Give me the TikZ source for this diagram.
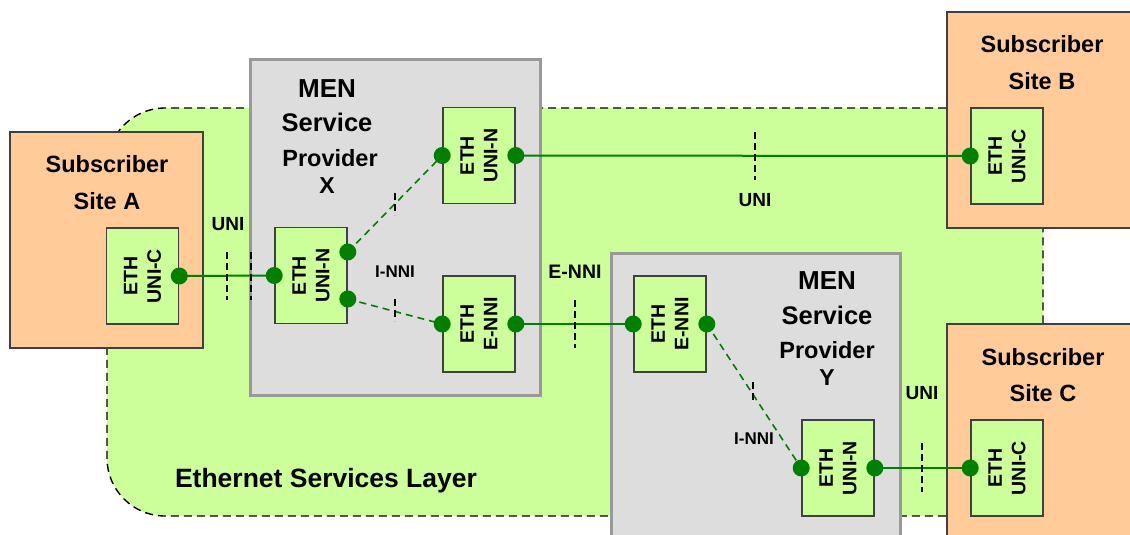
\documentclass[tikz,border=0pt]{standalone}
\usepackage{fontspec}
\setmainfont{Liberation Sans}
\usetikzlibrary{calc}
\definecolor{lgreen}{HTML}{CCFF99}
\definecolor{orng}{HTML}{FFCC99}
\definecolor{menfill}{HTML}{DDDDDD}
\definecolor{menline}{HTML}{999999}
\definecolor{boxline}{HTML}{404040}
\definecolor{dgreen}{HTML}{008000}
\begin{document}
\begin{tikzpicture}[x=1pt,y=-1pt,
  region/.style={draw=black, fill=lgreen, line width=1.4pt, dash pattern=on 8pt off 5pt, rounded corners=58pt, inner sep=0pt},
  site/.style={draw=boxline, fill=orng, line width=1.6pt, inner sep=0pt, minimum width=193pt, minimum height=216pt},
  men/.style={draw=menline, fill=menfill, line width=3pt, inner sep=0pt},
  ethbox/.style={draw=boxline, fill=lgreen, line width=1.6pt, inner sep=0pt, minimum width=72pt, minimum height=96pt},
  ethtxt/.style={rotate=90, align=center, inner sep=0pt, font=\bfseries\fontsize{19.5}{23.5}\selectfont},
  dot/.style={circle, fill=dgreen, inner sep=0pt, minimum size=17pt},
  link/.style={draw=dgreen, line width=2pt},
  dlink/.style={draw=dgreen, line width=1.6pt, dash pattern=on 7pt off 5pt},
  tickmark/.style={draw=black, line width=1.5pt, dash pattern=on 7pt off 4pt},
  txt/.style={inner sep=0pt, text depth=0pt, text height=#1*0.716pt, font=\bfseries\fontsize{#1}{#1}\selectfont}
]
\useasboundingbox (0,0) rectangle (1130,535);
\clip (0,0) rectangle (1130,535);

% Ethernet services layer
\node[region, minimum width=936pt, minimum height=408pt] (esl) at (575,312) {};
\node[txt=26.5] (esltxt) at (326,478) {Ethernet Services Layer};

% subscriber sites
\node[site] (siteA) at (106.5,240) {};
\node[site] (siteB) at (1043.5,120) {};
\node[site] (siteC) at (1043.5,432) {};
\node[txt=23.5] (sAt1) at (107,164) {Subscriber};
\node[txt=23.5] (sAt2) at (107,201) {Site A};
\node[txt=23.5] (sBt1) at (1042,44) {Subscriber};
\node[txt=23.5] (sBt2) at (1042,81) {Site B};
\node[txt=23.5] (sCt1) at (1043,357) {Subscriber};
\node[txt=23.5] (sCt2) at (1043,393) {Site C};

% MEN providers
\node[men, minimum width=290pt, minimum height=335pt] (menX) at (395,227.5) {};
\node[men, minimum width=289pt, minimum height=335pt] (menY) at (755.5,420.5) {};
\node[txt=26] (mXt1) at (327,88) {MEN};
\node[txt=25.5] (mXt2) at (327,122) {Service};
\node[txt=23.5] (mXt3) at (330,158) {Provider};
\node[txt=23] (mXt4) at (327,185) {X};
\node[txt=26] (mYt1) at (827,280) {MEN};
\node[txt=25.5] (mYt2) at (827,315) {Service};
\node[txt=23.5] (mYt3) at (827,350) {Provider};
\node[txt=23] (mYt4) at (827,377) {Y};

% ETH boxes
\node[ethbox] (uA) at (142.5,276) {};
\node[ethbox] (xL) at (311,275.5) {};
\node[ethbox] (xT) at (479,155.5) {};
\node[ethbox] (xE) at (479,324) {};
\node[ethbox] (yE) at (670,324) {};
\node[ethbox] (yU) at (838,468) {};
\node[ethbox] (uB) at (1007,156) {};
\node[ethbox] (uC) at (1007,468) {};
\node[ethtxt] (uAt) at (uA.center) {ETH\\UNI-C};
\node[ethtxt] (xLt) at (xL.center) {ETH\\UNI-N};
\node[ethtxt] (xTt) at (xT.center) {ETH\\UNI-N};
\node[ethtxt] (xEt) at (xE.center) {ETH\\E-NNI};
\node[ethtxt] (yEt) at (yE.center) {ETH\\E-NNI};
\node[ethtxt] (yUt) at (yU.center) {ETH\\UNI-N};
\node[ethtxt] (uBt) at (uB.center) {ETH\\UNI-C};
\node[ethtxt] (uCt) at (uC.center) {ETH\\UNI-C};

% connection points
\coordinate (pA) at (uA.east);
\coordinate (pXL) at (xL.west);
\coordinate (pXLu) at ($(xL.east)+(0,-23.5)$);
\coordinate (pXLd) at ($(xL.east)+(0,23.5)$);
\coordinate (pXTl) at (xT.west);
\coordinate (pXTr) at (xT.east);
\coordinate (pXEl) at (xE.west);
\coordinate (pXEr) at (xE.east);
\coordinate (pYEl) at (yE.west);
\coordinate (pYEr) at (yE.east);
\coordinate (pYUl) at (yU.west);
\coordinate (pYUr) at (yU.east);
\coordinate (pB) at (uB.west);
\coordinate (pC) at (uC.west);

% links
\draw[link] (pA) -- (pXL);
\draw[link] (pXTr) -- (pB);
\draw[link] (pXEr) -- (pYEl);
\draw[link] (pYUr) -- (pC);
\draw[dlink] (pXLu) -- (pXTl);
\draw[dlink] (pXLd) -- (pXEl);
\draw[dlink] (pYEr) -- (pYUl);

% dots
\foreach \p in {pA,pXL,pXLu,pXLd,pXTl,pXTr,pXEl,pXEr,pYEl,pYEr,pYUl,pYUr,pB,pC}
  \node[dot] (d\p) at (\p) {};

% interface ticks
\draw[tickmark] (227,252) -- (227,300);
\draw[tickmark] (251,252) -- (251,300);
\draw[tickmark] (395,193) -- (395,215);
\draw[tickmark] (395,299) -- (395,321);
\draw[tickmark] (575,300) -- (575,348);
\draw[tickmark] (755,132) -- (755,180);
\draw[tickmark] (753,382) -- (753,403);
\draw[tickmark] (922,443) -- (922,492);

% interface labels
\node[txt=19] (l1) at (228,224) {UNI};
\node[txt=17] (l2) at (395,271) {I-NNI};
\node[txt=19.5] (l3) at (575,272) {E-NNI};
\node[txt=19] (l4) at (755,200) {UNI};
\node[txt=17] (l5) at (754,438) {I-NNI};
\node[txt=19] (l6) at (922,393) {UNI};
\end{tikzpicture}
\end{document}
